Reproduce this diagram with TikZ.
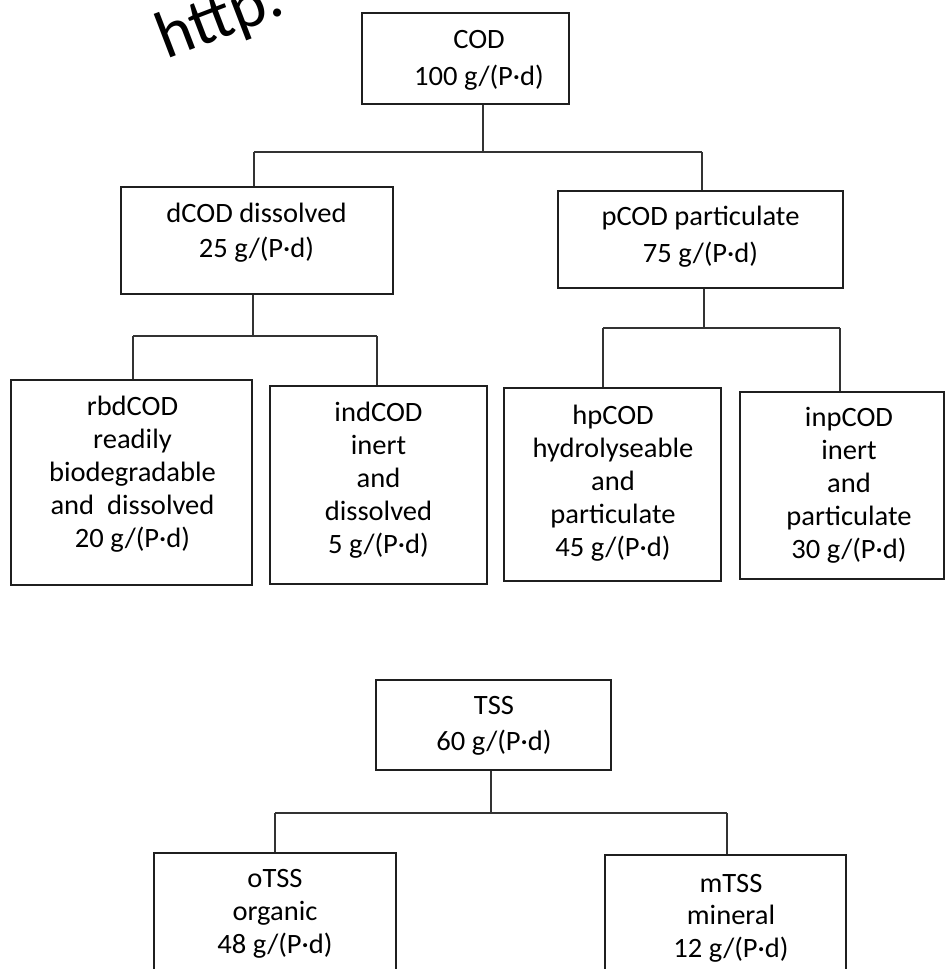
\documentclass[tikz,border=0pt]{standalone}
\usepackage{fontspec}
\setmainfont{Carlito}[FakeStretch=1.02]
\newfontfamily\wmfont{Carlito}
\begin{document}
\begin{tikzpicture}[x=1pt,y=-1pt,
  boxn/.style={draw=black!88, line width=1.8pt, inner sep=0pt},
  txt/.style={align=center, inner sep=0pt, text=black},
  conn/.style={draw=black!80, line width=1.3pt},
  wm/.style={inner sep=0pt, text=black, font={\wmfont\fontsize{67}{80}\selectfont}}]
\useasboundingbox (0,0) rectangle (945,969);
\clip (0,0) rectangle (945,969);
% watermark
\node[wm, rotate=21, anchor=base west] (wmk) at (166,60) {http:};
% boxes
\node[boxn, minimum width=207pt, minimum height=91pt]  (cod)  at (465.5,58.5) {};
\node[boxn, minimum width=272pt, minimum height=107pt] (dcod) at (257,240.5) {};
\node[boxn, minimum width=285pt, minimum height=97pt]  (pcod) at (700.5,239.5) {};
\node[boxn, minimum width=241pt, minimum height=205pt] (rbd)  at (131.5,482.5) {};
\node[boxn, minimum width=217pt, minimum height=198pt] (ind)  at (378.5,485) {};
\node[boxn, minimum width=217pt, minimum height=193pt] (hp)   at (612.5,484.5) {};
\node[boxn, minimum width=204pt, minimum height=187pt] (inp)  at (842,485.5) {};
\node[boxn, minimum width=235pt, minimum height=90pt]  (tss)  at (493.5,725) {};
\node[boxn, minimum width=242pt, minimum height=147pt] (otss) at (275,926.5) {};
\node[boxn, minimum width=241pt, minimum height=145pt] (mtss) at (725.5,927.5) {};
% texts
\node[txt, font={\fontsize{28}{37}\selectfont}] (codt) at (479,60) {COD\\100 g/(P·d)};
\node[txt, font={\fontsize{28}{35}\selectfont}] (dcodt) at (256.5,233) {dCOD dissolved\\25 g/(P·d)};
\node[txt, font={\fontsize{28}{37}\selectfont}] (pcodt) at (700.5,237) {pCOD particulate\\75 g/(P·d)};
\node[txt, font={\fontsize{28}{33}\selectfont}] (rbdt) at (132.5,474.5) {rbdCOD\\readily\\biodegradable\\and\ \ dissolved\\20 g/(P·d)};
\node[txt, font={\fontsize{28}{33}\selectfont}] (indt) at (378.5,480) {indCOD\\inert\\and\\dissolved\\5 g/(P·d)};
\node[txt, font={\fontsize{28}{33}\selectfont}] (hpt) at (613,483) {hpCOD\\hydrolyseable\\and\\particulate\\45 g/(P·d)};
\node[txt, font={\fontsize{28}{33}\selectfont}] (inpt) at (849,485.5) {inpCOD\\inert\\and\\particulate\\30 g/(P·d)};
\node[txt, font={\fontsize{28}{36}\selectfont}] (tsst) at (494,725.5) {TSS\\60 g/(P·d)};
\node[txt, font={\fontsize{28}{33}\selectfont}] (otsst) at (275,913.5) {oTSS\\organic\\48 g/(P·d)};
\node[txt, font={\fontsize{28}{32.5}\selectfont}] (mtsst) at (731,918) {mTSS\\mineral\\12 g/(P·d)};
% connectors: COD
\coordinate (j1) at (483,152);
\coordinate (b1) at (254,152);
\coordinate (b2) at (702,152);
\draw[conn] (cod.south -| j1) -- (j1);
\draw[conn] (b1) -- (b2);
\draw[conn] (b1) -- (b1 |- dcod.north);
\draw[conn] (b2) -- (b2 |- pcod.north);
% connectors: dCOD
\coordinate (j2) at (253,336);
\coordinate (c1) at (133,336);
\coordinate (c2) at (377,336);
\draw[conn] (dcod.south -| j2) -- (j2);
\draw[conn] (c1) -- (c2);
\draw[conn] (c1) -- (c1 |- rbd.north);
\draw[conn] (c2) -- (c2 |- ind.north);
% connectors: pCOD
\coordinate (j3) at (704,328);
\coordinate (d1) at (603,328);
\coordinate (d2) at (840,328);
\draw[conn] (pcod.south -| j3) -- (j3);
\draw[conn] (d1) -- (d2);
\draw[conn] (d1) -- (d1 |- hp.north);
\draw[conn] (d2) -- (d2 |- inp.north);
% connectors: TSS
\coordinate (j4) at (491,813);
\coordinate (e1) at (275,813);
\coordinate (e2) at (727,813);
\draw[conn] (tss.south -| j4) -- (j4);
\draw[conn] (e1) -- (e2);
\draw[conn] (e1) -- (e1 |- otss.north);
\draw[conn] (e2) -- (e2 |- mtss.north);
\end{tikzpicture}
\end{document}
